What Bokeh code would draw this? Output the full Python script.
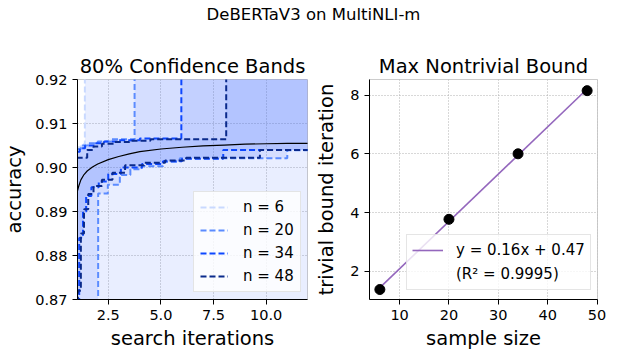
import numpy as np
from bokeh.plotting import figure
from bokeh.models import Range1d, Div, Legend, LegendItem, FixedTicker, NumeralTickFormatter
from bokeh.layouts import column, row
from bokeh.embed import file_html
from bokeh.resources import INLINE

FONT = "DejaVu Sans"

# ---------------- data: left panel ----------------
sample_sizes = ["n = 6", "n = 20", "n = 34", "n = 48"]
band_colors = ["#c9d9ff", "#5b8bff", "#0d47ff", "#0a2a8c"]

# upper bounds (post-step breakpoints and values)
upper_x = [
    [1.0, 1.2, 1.39],
    [1.0, 1.2, 1.5, 2.0, 2.6, 3.75],
    [1.0, 1.15, 1.4, 1.8, 2.3, 3.0, 4.0, 5.97],
    [1.0, 1.5, 1.8, 2.2, 2.8, 3.5, 4.5, 8.1],
]
upper_v = [
    [0.9046, 0.9052, 1.0],
    [0.9042, 0.9050, 0.9055, 0.9059, 0.9064, 1.0],
    [0.9036, 0.9044, 0.9050, 0.9055, 0.9059, 0.9062, 0.9066, 1.0],
    [0.9022, 0.9040, 0.9048, 0.9054, 0.9058, 0.9061, 0.9064, 1.0],
]
# lower bounds
lower_x = [
    [1.0],
    [1.0, 2.02, 2.48, 3.05, 3.55, 4.1, 5.1, 5.9, 11.0],
    [1.0, 1.12, 1.3, 1.45, 1.7, 2.05, 2.5, 3.1, 4.1, 5.1, 6.0, 7.96],
    [1.0, 1.06, 1.2, 1.35, 1.55, 1.8, 2.2, 2.7, 3.3, 4.2, 5.2, 6.2, 9.7],
]
lower_v = [
    [0.80],
    [0.80, 0.8941, 0.8961, 0.8983, 0.8996, 0.9003, 0.9013, 0.9021, 0.9039],
    [0.80, 0.8840, 0.8900, 0.8935, 0.8955, 0.8968, 0.8985, 0.9000, 0.9008, 0.9014, 0.9020, 0.9040],
    [0.80, 0.8720, 0.8850, 0.8905, 0.8940, 0.8958, 0.8972, 0.8988, 0.9005, 0.9011, 0.9016, 0.9022, 0.9040],
]
# expected best accuracy curve
curve_x = [1.0, 1.1, 1.2, 1.35, 1.5, 1.75, 2.0, 2.5, 3.0, 3.5, 4.0, 5.0, 6.0, 7.0, 8.0, 9.0, 10.0, 11.0, 12.0]
curve_y = [0.8940, 0.8958, 0.8972, 0.8984, 0.8992, 0.9001, 0.9008, 0.9018, 0.9025, 0.9031, 0.9036,
           0.9042, 0.9046, 0.9049, 0.9051, 0.9053, 0.9054, 0.9055, 0.9055]

# ---------------- data: right panel ----------------
n_values = [6, 20, 34, 48]
trivial_iter = [1.38, 3.77, 6.0, 8.15]
fit_label = "y = 0.16x + 0.47"
r2_label = "(R\u00b2 = 0.9995)"

X_MAX = 12.0


def stairs(xs, vs, xmax):
    X, Y = [], []
    for i, v in enumerate(vs):
        x0 = xs[i]
        x1 = xs[i + 1] if i + 1 < len(xs) else xmax
        X += [x0, x1]
        Y += [v, v]
    return X, Y


def step_eval(xs, vs, x):
    val = vs[0]
    for xi, vi in zip(xs, vs):
        if x >= xi - 1e-12:
            val = vi
    return val


def band_polygon(ux, uv, lx, lv, xmax):
    pts = sorted(set(ux + lx))
    edges = pts + [xmax]
    PX, PU, PL = [], [], []
    for i in range(len(pts)):
        u = step_eval(ux, uv, pts[i])
        l = step_eval(lx, lv, pts[i])
        PX += [edges[i], edges[i + 1]]
        PU += [u, u]
        PL += [l, l]
    return PX + PX[::-1], PU + PL[::-1]


def style(p):
    p.title.text_font = FONT
    p.title.text_font_size = "19.5px"
    p.title.text_font_style = "normal"
    p.title.text_color = "black"
    p.title.align = "center"
    p.title.standoff = 4
    p.outline_line_color = "#cccccc"
    for ax in (p.xaxis[0], p.yaxis[0]):
        ax.axis_label_text_font = FONT
        ax.axis_label_text_font_size = "19.5px"
        ax.axis_label_text_font_style = "normal"
        ax.axis_label_text_color = "black"
        ax.major_label_text_font = FONT
        ax.major_label_text_font_size = "14.5px"
        ax.major_label_text_color = "black"
        ax.axis_line_color = "black"
        ax.major_tick_line_color = "black"
        ax.major_tick_out = 5
        ax.major_tick_in = 0
        ax.minor_tick_line_color = None
        ax.major_label_standoff = 5
    for g in (p.xgrid[0], p.ygrid[0]):
        g.grid_line_color = "#b0b0b0"
        g.grid_line_dash = "1 2"
        g.grid_line_width = 1


# ---------------- left figure ----------------
p1 = figure(frame_width=230, frame_height=220, output_backend="svg", toolbar_location=None,
            x_range=Range1d(1.04, 11.96), y_range=Range1d(0.87, 0.92),
            title="80% Confidence Bands", x_axis_label="search iterations", y_axis_label="accuracy",
            min_border_left=71, min_border_right=5, min_border_top=40, min_border_bottom=52)
style(p1)
p1.xaxis.ticker = FixedTicker(ticks=[2.5, 5.0, 7.5, 10.0])
p1.xaxis.formatter = NumeralTickFormatter(format="0.0")
p1.yaxis.ticker = FixedTicker(ticks=[0.87, 0.88, 0.89, 0.90, 0.91, 0.92])
p1.yaxis.formatter = NumeralTickFormatter(format="0.00")
p1.yaxis.axis_label_standoff = 6
p1.xaxis.axis_label_standoff = 4

for k in range(4):
    PX, PY = band_polygon(upper_x[k], upper_v[k], lower_x[k], lower_v[k], X_MAX)
    p1.patch(PX, PY, fill_color="#3366ff", fill_alpha=0.11, line_color=None)

for k in range(4):
    ux, uy = stairs(upper_x[k], upper_v[k], X_MAX)
    lx, ly = stairs(lower_x[k], lower_v[k], X_MAX)
    p1.line(ux, uy, line_color=band_colors[k], line_width=2, line_dash="6 3")
    p1.line(lx, ly, line_color=band_colors[k], line_width=2, line_dash="6 3",
            legend_label=sample_sizes[k])

p1.line(curve_x, curve_y, line_color="black", line_width=1.2)

lg = p1.legend[0]
lg.location = (116, 7)
lg.label_text_font = FONT
lg.label_text_font_size = "15px"
lg.label_text_color = "black"
lg.glyph_width = 28
lg.glyph_height = 18
lg.label_height = 18
lg.label_standoff = 15
lg.spacing = 5
lg.padding = 6
lg.margin = 0
lg.border_line_color = "#cccccc"
lg.background_fill_alpha = 0.8

# ---------------- right figure ----------------
p2 = figure(frame_width=228, frame_height=220, output_backend="svg", toolbar_location=None,
            x_range=Range1d(3.9, 50.1), y_range=Range1d(1.04, 8.53),
            title="Max Nontrivial Bound", x_axis_label="sample size",
            y_axis_label="trivial bound iteration",
            min_border_left=56, min_border_right=10, min_border_top=40, min_border_bottom=52)
style(p2)
p2.xaxis.ticker = FixedTicker(ticks=[10, 20, 30, 40, 50])
p2.yaxis.ticker = FixedTicker(ticks=[2, 4, 6, 8])
p2.yaxis.axis_label_standoff = 9
p2.xaxis.axis_label_standoff = 4

slope, intercept = np.polyfit(n_values, trivial_iter, 1)
fx = [n_values[0], n_values[-1]]
fy = [slope * v + intercept for v in fx]
fit_r = p2.line(fx, fy, line_color="#9467bd", line_width=1.6)
dummy_r = p2.line([n_values[0]], [trivial_iter[0]], line_alpha=0)
p2.scatter(n_values, trivial_iter, size=10, color="black")

leg2 = Legend(items=[LegendItem(label=fit_label, renderers=[fit_r]),
                     LegendItem(label=r2_label, renderers=[dummy_r])])
leg2.location = (37, 9)
leg2.label_text_font = FONT
leg2.label_text_font_size = "15px"
leg2.label_text_color = "black"
leg2.glyph_width = 31
leg2.glyph_height = 20
leg2.label_height = 20
leg2.label_standoff = 13
leg2.spacing = 4
leg2.padding = 5
leg2.margin = 0
leg2.border_line_color = "#cccccc"
leg2.background_fill_alpha = 0.8
p2.add_layout(leg2)

title = Div(text="DeBERTaV3 on MultiNLI-m", width=600, height=29,
            styles={"text-align": "center", "font-size": "16.5px", "font-family": FONT,
                    "line-height": "20px", "color": "black", "padding-left": "17px",
                    "box-sizing": "border-box"})

layout = column(title, row(p1, p2, spacing=0), spacing=0)
open("out.html", "w").write(file_html(layout, INLINE))
